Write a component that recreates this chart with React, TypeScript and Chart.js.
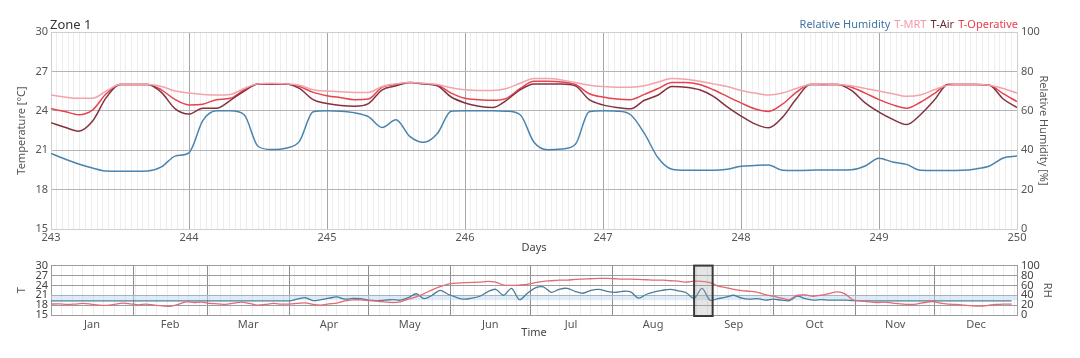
import React, { useEffect, useRef } from "react";
import { Chart, registerables } from "chart.js";

Chart.register(...registerables);

// ---------- Top chart (days 243–250, step 0.1 day) ----------
const zoneTitle = "Zone 1";
const topDayStart = 243;
const topDayEnd = 250;
const topStep = 0.1;

const relHumidity = [
  38.4, 35.5, 33.0, 31.0, 29.4, 29.3, 29.3, 29.4, 31.5, 37.0,
  38.7, 55.0, 60.0, 60.0, 58.0, 42.0, 40.3, 41.0, 44.5, 59.5,
  60.0, 59.8, 59.0, 57.0, 51.5, 55.5, 47.0, 44.0, 48.5, 59.8,
  60.0, 60.0, 60.0, 59.8, 58.0, 44.0, 40.2, 40.6, 43.0, 59.5,
  60.0, 59.8, 58.0, 48.5, 36.0, 30.3, 29.8, 29.8, 29.8, 30.3,
  31.8, 32.2, 32.5, 29.8, 29.7, 29.8, 30.0, 30.0, 30.1, 32.0,
  35.9, 34.0, 32.8, 29.8, 29.7, 29.7, 29.8, 30.5, 32.0, 36.0,
  37.0,
];

const tMrt = [
  25.2, 25.05, 24.95, 24.95, 25.5, 26.0, 26.0, 26.0, 25.85, 25.5,
  25.35, 25.25, 25.2, 25.25, 25.7, 26.05, 26.1, 26.05, 25.95, 25.6,
  25.5, 25.45, 25.4, 25.4, 25.85, 26.05, 26.15, 26.1, 26.0, 25.75,
  25.6, 25.55, 25.55, 25.7, 26.1, 26.45, 26.45, 26.35, 26.15, 25.95,
  25.85, 25.8, 25.8, 25.9, 26.2, 26.45, 26.4, 26.25, 26.05, 25.85,
  25.55, 25.35, 25.2, 25.35, 25.7, 26.0, 26.05, 26.0, 25.9, 25.7,
  25.5, 25.3, 25.1, 25.2, 25.6, 25.95, 26.0, 26.0, 25.95, 25.7,
  25.35,
];

const tAir = [
  23.1, 22.75, 22.45, 23.2, 25.0, 26.0, 26.0, 26.0, 25.4, 24.15,
  23.75, 24.2, 24.2, 24.8, 25.5, 26.05, 26.05, 26.05, 25.7, 24.85,
  24.55, 24.4, 24.35, 24.55, 25.6, 25.9, 26.15, 26.05, 25.9, 25.05,
  24.6, 24.35, 24.25, 24.8, 25.6, 26.05, 26.05, 26.05, 25.9, 24.85,
  24.45, 24.25, 24.15, 24.8, 25.2, 25.85, 25.8, 25.6, 25.1, 24.3,
  23.6, 23.0, 22.7, 23.5, 24.9, 26.0, 26.0, 26.0, 25.55, 24.6,
  23.9, 23.35, 22.95, 23.7, 24.8, 26.0, 26.0, 26.0, 25.95, 24.9,
  24.25,
];

const tOperative = [
  24.15, 23.95, 23.7, 24.05, 25.3, 26.0, 26.0, 26.0, 25.6, 24.85,
  24.45, 24.5, 24.85, 24.95, 25.6, 26.05, 26.05, 26.05, 25.85, 25.4,
  25.15, 25.0, 24.85, 24.9, 25.8, 26.0, 26.15, 26.05, 25.95, 25.35,
  24.95, 24.85, 24.8, 24.95, 25.7, 26.25, 26.25, 26.2, 26.0, 25.3,
  25.05, 24.9, 24.85, 25.25, 25.7, 26.15, 26.15, 26.0, 25.6, 25.1,
  24.6, 24.15, 23.95, 24.5, 25.4, 26.0, 26.0, 26.0, 25.8, 25.35,
  24.85, 24.45, 24.2, 24.65, 25.3, 26.0, 26.0, 26.0, 25.95, 25.3,
  24.7,
];

const tempTicks = [15, 18, 21, 24, 27, 30];
const rhTicks = [0, 20, 40, 60, 80, 100];

// ---------- Bottom chart (whole year, step 3 days) ----------
const months = ["Jan", "Feb", "Mar", "Apr", "May", "Jun", "Jul", "Aug", "Sep", "Oct", "Nov", "Dec"];
const monthStartDays = [0, 31, 59, 90, 120, 151, 181, 212, 243, 273, 304, 334, 365];
const yearStep = 3;

const yearTemp = [
  18.3, 18.4, 18.2, 18.3, 18.5, 18.3, 18.0, 17.9, 18.2, 18.6,
  18.4, 18.1, 18.3, 18.0, 17.8, 17.6, 18.2, 19.0, 18.8, 18.9,
  18.5, 18.4, 18.2, 18.6, 18.9, 18.5, 18.0, 18.2, 18.5, 18.3,
  18.3, 18.5, 18.7, 18.2, 18.0, 18.4, 18.6, 19.3, 19.6, 19.6,
  19.4, 19.2, 19.0, 18.8, 19.0, 19.8, 20.5, 21.5, 22.6, 23.6,
  24.4, 24.7, 24.8, 24.9, 25.0, 25.2, 25.0, 24.1, 24.0, 24.1,
  24.3, 24.8, 25.2, 25.4, 25.6, 25.6, 25.8, 25.9, 26.0, 26.1,
  26.1, 26.0, 25.9, 25.9, 25.8, 25.7, 25.6, 25.6, 25.4, 25.3,
  25.0, 25.3, 25.2, 24.8, 23.8, 23.3, 22.8, 22.4, 22.2, 21.9,
  21.2, 20.7, 20.1, 19.7, 21.0, 21.1, 20.7, 21.0, 21.5, 22.0,
  21.4, 19.6, 19.3, 19.0, 18.8, 18.9, 18.6, 18.4, 18.2, 18.3,
  18.8, 19.1, 18.6, 18.3, 18.2, 18.0, 17.8, 17.7, 17.9, 18.2,
  18.3, 18.3,
];

const yearRh = [
  28.6, 28.6, 28.6, 28.6, 28.6, 28.6, 28.6, 28.6, 28.6, 28.6,
  28.6, 28.6, 28.6, 28.6, 28.6, 28.6, 28.6, 28.6, 28.6, 28.6,
  28.6, 28.6, 28.6, 28.6, 28.6, 28.6, 28.6, 28.6, 28.6, 28.6,
  28.6, 32, 35, 29, 31, 34, 36.5, 32, 33.5, 33,
  30, 29, 30, 31, 30, 35, 43, 33, 40, 50,
  42, 36, 32, 34, 38, 47, 52, 40, 54, 31,
  44, 55, 57, 46, 52, 54, 48, 44, 50, 52,
  48, 46, 48, 47, 34, 42, 47, 50, 52, 49,
  45, 34, 54, 30, 33, 36, 40, 34, 32, 33,
  30, 32, 30, 29, 38, 33, 30, 31, 30, 30,
  30, 29, 28.6, 28.6, 28.6, 28.6, 28.6, 28.6, 28.6, 28.6,
  28.6, 28.6, 28.6, 28.6, 28.6, 28.6, 28.6, 28.6, 28.6, 28.6,
  28.6, 28.6,
];

const comfortRhBand = [30, 40];
const selectedDays = [243, 250];

// ---------- Colours ----------
const cRh = "#4a84ad";
const cMrt = "#f3a3ab";
const cAir = "#84323f";
const cOp = "#e6434f";
const cYearT = "#e16a73";
const cYearRh = "#4b7d98";

const FONT = "'Noto Sans', 'DejaVu Sans', sans-serif";

const isWhole = (v: number) => Math.abs(v - Math.round(v)) < 1e-6;

export default function App() {
  const topRef = useRef<HTMLCanvasElement | null>(null);
  const botRef = useRef<HTMLCanvasElement | null>(null);

  useEffect(() => {
    Chart.defaults.font.family = FONT;

    const topDays = relHumidity.map((_, i) => topDayStart + i * topStep);
    const hourTicks: number[] = [];
    for (let h = 0; h <= (topDayEnd - topDayStart) * 24; h++) hourTicks.push(topDayStart + h / 24);
    const pts = (arr: number[]) => arr.map((v, i) => ({ x: topDays[i], y: v }));

    const lineCommon = {
      pointRadius: 0,
      borderWidth: 1.5,
      cubicInterpolationMode: "monotone" as const,
      fill: false,
    };

    const top = new Chart(topRef.current as HTMLCanvasElement, {
      type: "line",
      data: {
        datasets: [
          { ...lineCommon, label: "Relative Humidity", data: pts(relHumidity), borderColor: cRh, yAxisID: "y1" },
          { ...lineCommon, label: "T-MRT", data: pts(tMrt), borderColor: cMrt, yAxisID: "y" },
          { ...lineCommon, label: "T-Air", data: pts(tAir), borderColor: cAir, yAxisID: "y" },
          { ...lineCommon, label: "T-Operative", data: pts(tOperative), borderColor: cOp, yAxisID: "y" },
        ],
      },
      options: {
        animation: false,
        responsive: false,
        events: [],
        layout: { padding: { top: 24, left: 0, right: 0, bottom: 0 } },
        plugins: { legend: { display: false }, tooltip: { enabled: false } },
        scales: {
          x: {
            type: "linear",
            min: topDayStart,
            max: topDayEnd,
            afterBuildTicks: (s: any) => {
              s.ticks = hourTicks.map((v) => ({ value: v }));
            },
            ticks: {
              autoSkip: false,
              maxRotation: 0,
              padding: 2,
              color: "#555",
              font: { size: 11 },
              callback: (v: any) => (isWhole(v) ? String(Math.round(v)) : ""),
            },
            grid: {
              drawTicks: false,
              color: (ctx: any) => (ctx.tick && isWhole(ctx.tick.value) ? "#a6a6a6" : "#eeeeee"),
            },
            border: { display: false },
            title: { display: true, text: "Days", color: "#444", font: { size: 11 }, padding: { top: 0, bottom: 1 } },
            afterFit: (s: any) => {
              s.height = 26;
            },
          },
          y: {
            type: "linear",
            position: "left",
            min: 15,
            max: 30,
            afterBuildTicks: (s: any) => {
              s.ticks = tempTicks.map((v) => ({ value: v }));
            },
            ticks: { autoSkip: false, color: "#555", font: { size: 11 }, padding: 3 },
            grid: { drawTicks: false, color: (ctx: any) => (ctx.tick && (ctx.tick.value === 30 || ctx.tick.value === 15) ? "#cfcfcf" : "#b4b4b4") },
            border: { display: true, color: "#cfcfcf" },
            title: { display: true, text: "Temperature [°C]", color: "#555", font: { size: 11 }, padding: { top: 7, bottom: 0 } },
            afterFit: (s: any) => {
              s.width = 43;
            },
          },
          y1: {
            type: "linear",
            position: "right",
            min: 0,
            max: 100,
            afterBuildTicks: (s: any) => {
              s.ticks = rhTicks.map((v) => ({ value: v }));
            },
            ticks: { autoSkip: false, color: "#555", font: { size: 11 }, padding: 4 },
            grid: { drawOnChartArea: false, drawTicks: false },
            border: { display: true, color: "#cfcfcf" },
            title: { display: true, text: "Relative Humidity [%]", color: "#555", font: { size: 11 }, padding: { top: 22, bottom: 0 } },
            afterFit: (s: any) => {
              s.width = 55;
            },
          },
        },
      },
    } as any);

    // Bottom overview chart
    const yearDays = yearTemp.map((_, i) => i * yearStep);
    const monthMids = months.map((_, i) => (monthStartDays[i] + monthStartDays[i + 1]) / 2);
    const minorDays: number[] = [];
    for (let d = 4; d < 365; d += 4) minorDays.push(d);
    const yearTickValues = [...monthStartDays, ...monthMids, ...minorDays].sort((a, b) => a - b);
    const boundarySet = new Set(monthStartDays);
    const midSet = new Set(monthMids);

    const decor = {
      id: "decor",
      beforeDatasetsDraw(chart: any) {
        const { ctx, chartArea, scales } = chart;
        const yA = scales.y1.getPixelForValue(comfortRhBand[1]);
        const yB = scales.y1.getPixelForValue(comfortRhBand[0]);
        ctx.save();
        ctx.fillStyle = "rgba(188,218,242,0.5)";
        ctx.fillRect(chartArea.left, yA, chartArea.right - chartArea.left, yB - yA);
        ctx.restore();
      },
      afterDatasetsDraw(chart: any) {
        const { ctx, chartArea, scales } = chart;
        const x0 = scales.x.getPixelForValue(selectedDays[0]);
        const x1 = scales.x.getPixelForValue(selectedDays[1]);
        ctx.save();
        ctx.fillStyle = "rgba(170,170,170,0.3)";
        ctx.fillRect(x0, chartArea.top, x1 - x0, chartArea.bottom - chartArea.top + 1);
        ctx.strokeStyle = "#3a3a3a";
        ctx.lineWidth = 2;
        ctx.strokeRect(x0, chartArea.top, x1 - x0, chartArea.bottom - chartArea.top + 1);
        ctx.restore();
      },
    };

    const bot = new Chart(botRef.current as HTMLCanvasElement, {
      type: "line",
      data: {
        datasets: [
          {
            label: "T",
            data: yearTemp.map((v, i) => ({ x: yearDays[i], y: v })),
            borderColor: cYearT,
            borderWidth: 1.3,
            pointRadius: 0,
            tension: 0.3,
            yAxisID: "y",
          },
          {
            label: "RH",
            data: yearRh.map((v, i) => ({ x: yearDays[i], y: v })),
            borderColor: cYearRh,
            borderWidth: 1.3,
            pointRadius: 0,
            tension: 0.3,
            yAxisID: "y1",
          },
        ],
      },
      options: {
        animation: false,
        responsive: false,
        events: [],
        layout: { padding: { top: 10, left: 0, right: 0, bottom: 0 } },
        plugins: { legend: { display: false }, tooltip: { enabled: false } },
        scales: {
          x: {
            type: "linear",
            min: 0,
            max: 365,
            afterBuildTicks: (s: any) => {
              s.ticks = yearTickValues.map((v) => ({ value: v }));
            },
            ticks: {
              autoSkip: false,
              maxRotation: 0,
              padding: 3,
              color: "#555",
              font: { size: 11 },
              callback: (v: any) => {
                const mi = monthMids.indexOf(v);
                return mi >= 0 ? months[mi] : "";
              },
            },
            grid: {
              drawTicks: false,
              color: (ctx: any) => {
                const v = ctx.tick ? ctx.tick.value : -1;
                if (boundarySet.has(v)) return "#8e8e8e";
                if (midSet.has(v)) return "rgba(0,0,0,0)";
                return "#ededed";
              },
            },
            border: { display: false },
            title: { display: true, text: "Time", color: "#444", font: { size: 11 }, padding: { top: 0, bottom: 1 } },
            afterFit: (s: any) => {
              s.height = 25;
            },
          },
          y: {
            type: "linear",
            position: "left",
            min: 15,
            max: 30,
            afterBuildTicks: (s: any) => {
              s.ticks = tempTicks.map((v) => ({ value: v }));
            },
            ticks: { autoSkip: false, color: "#444", font: { size: 11 }, padding: 3 },
            grid: { drawTicks: false, color: "#9c9c9c" },
            border: { display: true, color: "#9c9c9c" },
            title: { display: true, text: "T", color: "#555", font: { size: 11 }, padding: { top: 7, bottom: 0 } },
            afterFit: (s: any) => {
              s.width = 43;
            },
          },
          y1: {
            type: "linear",
            position: "right",
            min: 0,
            max: 100,
            afterBuildTicks: (s: any) => {
              s.ticks = rhTicks.map((v) => ({ value: v }));
            },
            ticks: { autoSkip: false, color: "#444", font: { size: 11 }, padding: 4 },
            grid: { drawOnChartArea: false, drawTicks: false },
            border: { display: true, color: "#9c9c9c" },
            title: { display: true, text: "RH", color: "#555", font: { size: 11 }, padding: { top: 18, bottom: 0 } },
            afterFit: (s: any) => {
              s.width = 55;
            },
          },
        },
      },
      plugins: [decor],
    } as any);

    return () => {
      top.destroy();
      bot.destroy();
    };
  }, []);

  const legendItems = [
    { text: "Relative Humidity", color: "#3f72a0" },
    { text: "T-MRT", color: "#f29aa4" },
    { text: "T-Air", color: "#6e2a33" },
    { text: "T-Operative", color: "#e8404e" },
  ];

  return (
    <div style={{ position: "relative", width: 1064, fontFamily: FONT }}>
      <canvas ref={topRef} width={1064} height={247} style={{ display: "block" }} />
      <canvas ref={botRef} width={1064} height={85} style={{ display: "block" }} />
      <div
        style={{
          position: "absolute",
          left: 42,
          top: 8,
          fontSize: 13,
          lineHeight: "16px",
          color: "#333",
        }}
      >
        {zoneTitle}
      </div>
      <div
        style={{
          position: "absolute",
          right: 54,
          top: 9,
          fontSize: 11,
          lineHeight: "14px",
          whiteSpace: "nowrap",
        }}
      >
        {legendItems.map((it, i) => (
          <span key={it.text} style={{ color: it.color, marginLeft: i === 0 ? 0 : 4 }}>
            {it.text}
          </span>
        ))}
      </div>
    </div>
  );
}
